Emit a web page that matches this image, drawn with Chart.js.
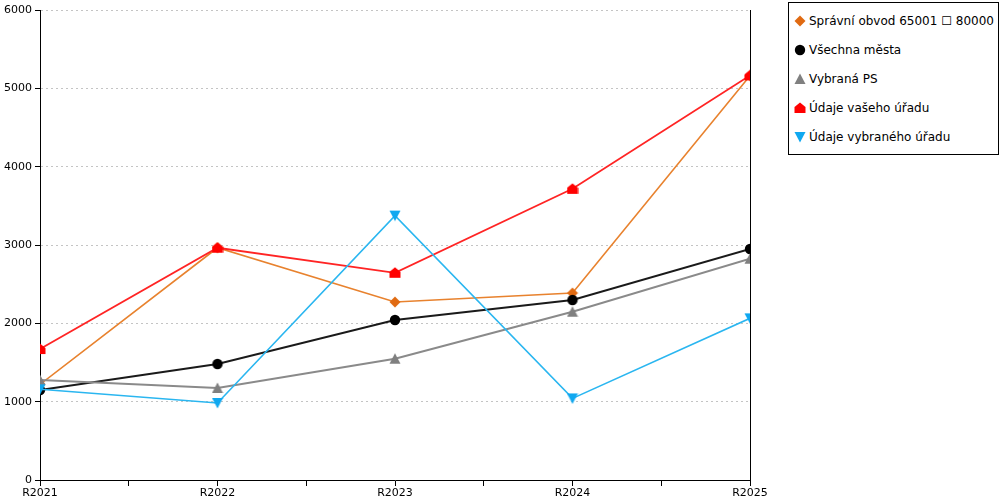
<!DOCTYPE html>
<html lang="cs">
<head>
<meta charset="utf-8">
<title>Vývoj hodnot R2021–R2025</title>
<script src="https://cdn.jsdelivr.net/npm/chart.js@4/dist/chart.umd.min.js"></script>
<style>
  body { margin: 0; background: #fff; font-family: "DejaVu Sans", sans-serif; }
  #wrap { position: relative; width: 1000px; height: 500px; }
  #legend {
    position: absolute; left: 788px; top: 2px; width: 211px; height: 153px;
    border: 1px solid #000; background: #fff; box-sizing: border-box;
  }
  .item { position: absolute; left: 5px; height: 14px; display: flex; align-items: center;
          font-size: 12px; color: #000; white-space: nowrap; }
  .item img { width: 12px; height: 12px; margin-right: 3px; }
</style>
</head>
<body>
<div id="wrap">
  <canvas id="chart" width="1000" height="500"></canvas>
  <div id="legend"></div>
</div>
<script>
"use strict";

// Categories on the x axis.
const categories = ["R2021", "R2022", "R2023", "R2024", "R2025"];

// Series values.
const obvod = [1220, 2965, 2272, 2387, 5160];
const vsechnaMesta = [1149, 1481, 2043, 2298, 2949];
const vybranaPS = [1277, 1175, 1548, 2148, 2825];
const vasUrad = [1672, 2965, 2645, 3717, 5165];
const vybranyUrad = [1158, 983, 3375, 1042, 2064];

const seriesNames = [
  "Správní obvod 65001 ☐ 80000",
  "Všechna města",
  "Vybraná PS",
  "Údaje vašeho úřadu",
  "Údaje vybraného úřadu",
];

// y axis ticks
const yTicks = [0, 1000, 2000, 3000, 4000, 5000, 6000];

/** Draw a 12x12 marker of the given shape onto a small canvas. */
function makeMarker(shape, color) {
  const c = document.createElement("canvas");
  c.width = 12;
  c.height = 12;
  const g = c.getContext("2d");
  g.fillStyle = color;
  g.beginPath();
  if (shape === "circle") {
    g.arc(6, 6, 5.2, 0, Math.PI * 2);
  } else {
    const pts = {
      diamond: [[6, 0.5], [11.5, 6], [6, 11.5], [0.5, 6]],
      up: [[6, 0.5], [11.5, 11], [0.5, 11]],
      house: [[6, 0.5], [11.5, 5], [11.5, 11], [0.5, 11], [0.5, 5]],
      down: [[0.5, 1], [11.5, 1], [6, 11.5]],
    }[shape];
    g.moveTo(pts[0][0], pts[0][1]);
    for (const [x, y] of pts.slice(1)) g.lineTo(x, y);
    g.closePath();
  }
  g.fill();
  return c;
}

const styles = [
  { line: "#e8822e", marker: "#e06a12", shape: "diamond", width: 1.6 },
  { line: "#1a1a1a", marker: "#000000", shape: "circle", width: 2 },
  { line: "#8a8a8a", marker: "#808080", shape: "up", width: 2 },
  { line: "#ff2424", marker: "#ff0000", shape: "house", width: 1.8 },
  { line: "#2ab6f0", marker: "#10a8f0", shape: "down", width: 1.6 },
];

const values = [obvod, vsechnaMesta, vybranaPS, vasUrad, vybranyUrad];

const datasets = values.map((arr, i) => {
  const s = styles[i];
  return {
    label: seriesNames[i],
    data: arr.map((v, k) => ({ x: k, y: v })),
    borderColor: s.line,
    borderWidth: s.width,
    pointStyle: makeMarker(s.shape, s.marker),
    pointRadius: 6,
    pointHoverRadius: 6,
    tension: 0,
    order: values.length - i,
  };
});

/** Build the boxed legend on the right. */
function renderLegend() {
  const box = document.getElementById("legend");
  seriesNames.forEach((name, i) => {
    const item = document.createElement("div");
    item.className = "item";
    item.style.top = 11 + i * 29 + "px";
    const img = document.createElement("img");
    img.src = makeMarker(styles[i].shape, styles[i].marker).toDataURL();
    const text = document.createElement("span");
    text.textContent = name;
    item.append(img, text);
    box.append(item);
  });
}

const tickFont = { family: "'DejaVu Sans', sans-serif", size: 11 };

new Chart(document.getElementById("chart"), {
  type: "line",
  data: { datasets },
  options: {
    responsive: false,
    animation: false,
    devicePixelRatio: 1,
    layout: { padding: { top: 10, right: 250, left: 0, bottom: 0 } },
    plugins: { legend: { display: false }, tooltip: { enabled: false } },
    scales: {
      x: {
        type: "linear",
        min: 0,
        max: categories.length - 1,
        afterBuildTicks: (scale) => {
          const t = [];
          for (let v = 0; v <= categories.length - 1; v += 0.5) t.push({ value: v });
          scale.ticks = t;
        },
        afterFit: (scale) => { scale.height = 20; },
        ticks: {
          autoSkip: false,
          maxRotation: 0,
          padding: 1,
          color: "#000",
          font: tickFont,
          callback: (v) => (Number.isInteger(v) ? categories[v] : ""),
        },
        grid: {
          drawOnChartArea: true,
          color: (ctx) => (ctx.tick && ctx.tick.value === categories.length - 1 ? "#000" : "rgba(0,0,0,0)"),
          tickColor: "#000",
          tickLength: 6,
          lineWidth: 1,
        },
        border: { color: "#000", width: 1 },
      },
      y: {
        min: yTicks[0],
        max: yTicks[yTicks.length - 1],
        afterBuildTicks: (scale) => { scale.ticks = yTicks.map((v) => ({ value: v })); },
        afterFit: (scale) => { scale.width = 40; },
        ticks: { color: "#000", font: tickFont, padding: 3, callback: (v) => String(v) },
        grid: {
          color: "#c4c4c4",
          tickBorderDash: [],
          tickColor: "#000",
          tickLength: 5,
        },
        border: { color: "#000", width: 1, dash: [2, 3] },
      },
    },
  },
});

renderLegend();
</script>
</body>
</html>
